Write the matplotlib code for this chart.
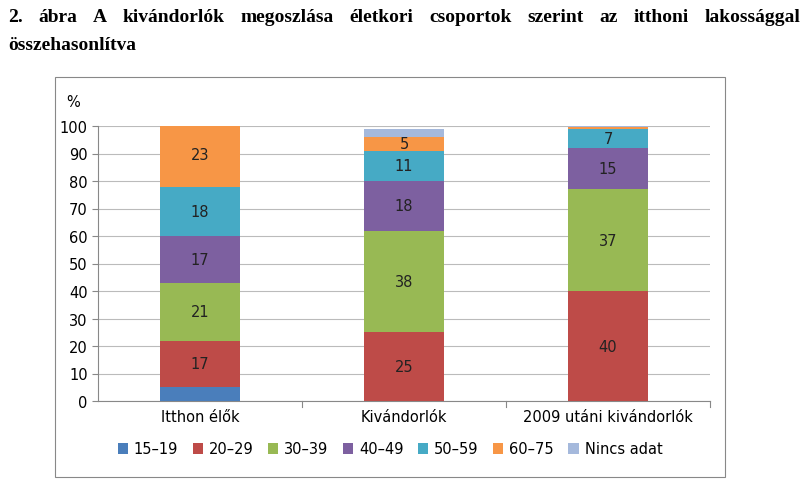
import numpy as np
import matplotlib.pyplot as plt
from matplotlib.patches import Rectangle

groups = ["Itthon élők", "Kivándorlók", "2009 utáni kivándorlók"]
age_bands = ["15–19", "20–29", "30–39", "40–49", "50–59", "60–75", "Nincs adat"]
colors = ["#4a7ebb", "#be4b48", "#98b954", "#7d60a0", "#46aac5", "#f79646", "#a5b9dc"]

values = [
    [5, 0, 0],       # 15-19
    [17, 25, 40],    # 20-29
    [21, 37, 37],    # 30-39
    [17, 18, 15],    # 40-49
    [18, 11, 7],     # 50-59
    [23, 5, 0.8],    # 60-75
    [0, 3, 0.5],     # Nincs adat
]
labels = [
    [None, None, None],
    ["17", "25", "40"],
    ["21", "38", "37"],
    ["17", "18", "15"],
    ["18", "11", "7"],
    ["23", "5", None],
    [None, None, None],
]

W, H = 810, 485
fig = plt.figure(figsize=(W / 100, H / 100), dpi=100)
fig.patch.set_facecolor("white")

# justified first title line: spread words between left and right edge
words = ["2.", "ábra", "A", "kivándorlók", "megoszlása", "életkori",
         "csoportok", "szerint", "az", "itthoni", "lakossággal"]
renderer = fig.canvas.get_renderer()
texts = [fig.text(0, 0, w, fontfamily="Liberation Serif", fontsize=14,
                  fontweight="bold", va="center") for w in words]
widths = [t.get_window_extent(renderer).width for t in texts]
gap = (800 - 8 - sum(widths)) / (len(words) - 1)
xpos = 8
for t, w in zip(texts, widths):
    t.set_position((xpos / W, 1 - 18 / H))
    xpos += w + gap
fig.text(8 / W, 1 - 45 / H, "összehasonlítva", fontfamily="Liberation Serif",
         fontsize=14, fontweight="bold", va="center", ha="left")

# outer chart frame
fig.patches.append(Rectangle((55 / W, 1 - 478 / H), 670 / W, 400 / H,
                             transform=fig.transFigure, fill=False,
                             edgecolor="#888888", linewidth=0.8))

ax = fig.add_axes([98 / W, 1 - 402 / H, 612 / W, 275 / H])
x = np.arange(len(groups))
bottom = np.zeros(len(groups))
for vals, labs, col, name in zip(values, labels, colors, age_bands):
    vals = np.array(vals, dtype=float)
    ax.bar(x, vals, 0.39, bottom=bottom, color=col, label=name, zorder=3)
    for i, lab in enumerate(labs):
        if lab:
            ax.text(x[i], bottom[i] + vals[i] / 2, lab, ha="center", va="center",
                    fontsize=10.5, color="#222222", zorder=4)
    bottom += vals

ax.set_xlim(-0.5, 2.5)
ax.set_ylim(0, 100)
ax.set_yticks(range(0, 101, 10))
ax.set_xticks(x)
ax.set_xticklabels(groups, fontsize=10.5)
ax.tick_params(axis="y", labelsize=10.5, length=4, color="#888888")
ax.tick_params(axis="x", length=0, pad=6)
ax.grid(axis="y", color="#bbbbbb", linewidth=0.8, zorder=0)
for s in ["top", "right"]:
    ax.spines[s].set_visible(False)
ax.spines["left"].set_color("#888888")
ax.spines["bottom"].set_color("#888888")
for xb in [0.5, 1.5, 2.5]:
    ax.plot([xb, xb], [0, -2], color="#888888", lw=0.8, clip_on=False)
ax.text(-0.62, 109, "%", fontsize=10.5, ha="center", va="center")

fig.legend(loc="center", bbox_to_anchor=(390 / W, 1 - 450 / H), ncol=7,
           frameon=False, fontsize=10.5, handlelength=0.7, handleheight=0.7,
           columnspacing=1.0, handletextpad=0.4)

fig.savefig("out.png", dpi=100)
